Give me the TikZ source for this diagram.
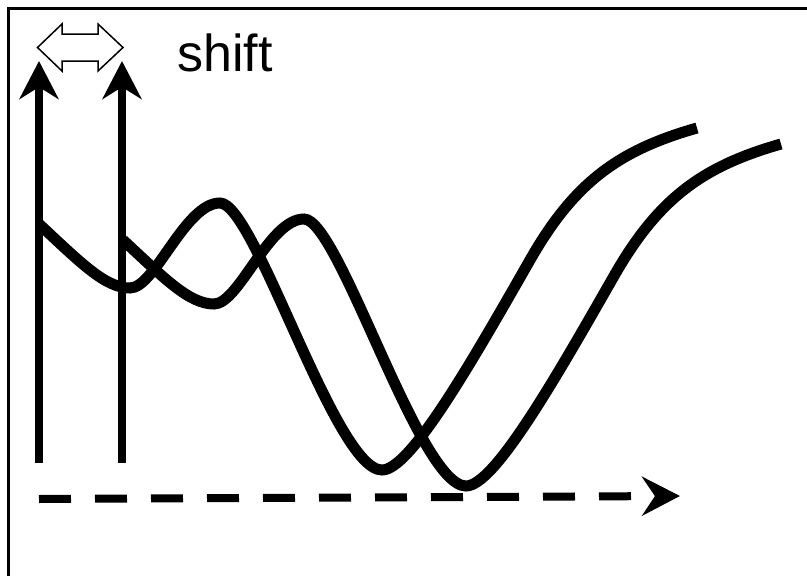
\documentclass[tikz,border=0pt]{standalone}
\usepackage{fontspec}
\setmainfont{Liberation Sans}
\usetikzlibrary{arrows.meta}
\begin{document}
\begin{tikzpicture}[x=1pt,y=-1pt,
  curve/.style={line width=11pt},
  axisarrow/.style={line width=8pt, -{Stealth[length=38pt,width=39pt,inset=12pt]}},
  dashedaxis/.style={line width=8pt, dash pattern=on 32pt off 24pt, -{Stealth[length=38pt,width=39pt,inset=13pt]}},
  frame/.style={line width=3pt},
  shiftarrow/.style={line width=1.5pt, line join=miter, fill=white},
]
\useasboundingbox (0,0) rectangle (807,576);
\clip (0,0) rectangle (807,576);
% frame (right and bottom edges lie outside the picture)
\draw[frame] (8.5,8.5) rectangle (900,700);

% named points
\coordinate (a1) at (39,463);
\coordinate (a1t) at (39,61);
\coordinate (a2) at (122,463);
\coordinate (a2t) at (122,61);
\coordinate (xs) at (39,499);
\coordinate (xe) at (680,496);

% vertical arrows
\draw[axisarrow] (a1) -- (a1t);
\draw[axisarrow] (a2) -- (a2t);

% dashed horizontal arrow
\draw[dashedaxis] (xs) -- (xe);

% the two curves
\draw[curve] (39,224) .. controls (80,262) and (105,288) .. (130,288)
  .. controls (155,288) and (185,203) .. (220,203)
  .. controls (255,203) and (335,470) .. (382,470)
  .. controls (410,470) and (470,365) .. (530,260)
  .. controls (575,181) and (620,150) .. (697,128);
\begin{scope}[shift={(84,16)}]
\draw[curve] (39,224) .. controls (80,262) and (105,288) .. (130,288)
  .. controls (155,288) and (185,203) .. (220,203)
  .. controls (255,203) and (335,470) .. (382,470)
  .. controls (410,470) and (470,365) .. (530,260)
  .. controls (575,181) and (620,150) .. (697,128);
\end{scope}

% outlined double arrow
\draw[shiftarrow] (37.5,47.5) -- (62,24) -- (62,34) -- (98,34) -- (98,24) -- (123,47.5)
  -- (98,71) -- (98,61) -- (62,61) -- (62,71) -- cycle;

% label
\node[anchor=base west, inner sep=0pt, font=\fontsize{52}{60}\selectfont] (shiftlabel) at (177,71) {shift};
\end{tikzpicture}
\end{document}
